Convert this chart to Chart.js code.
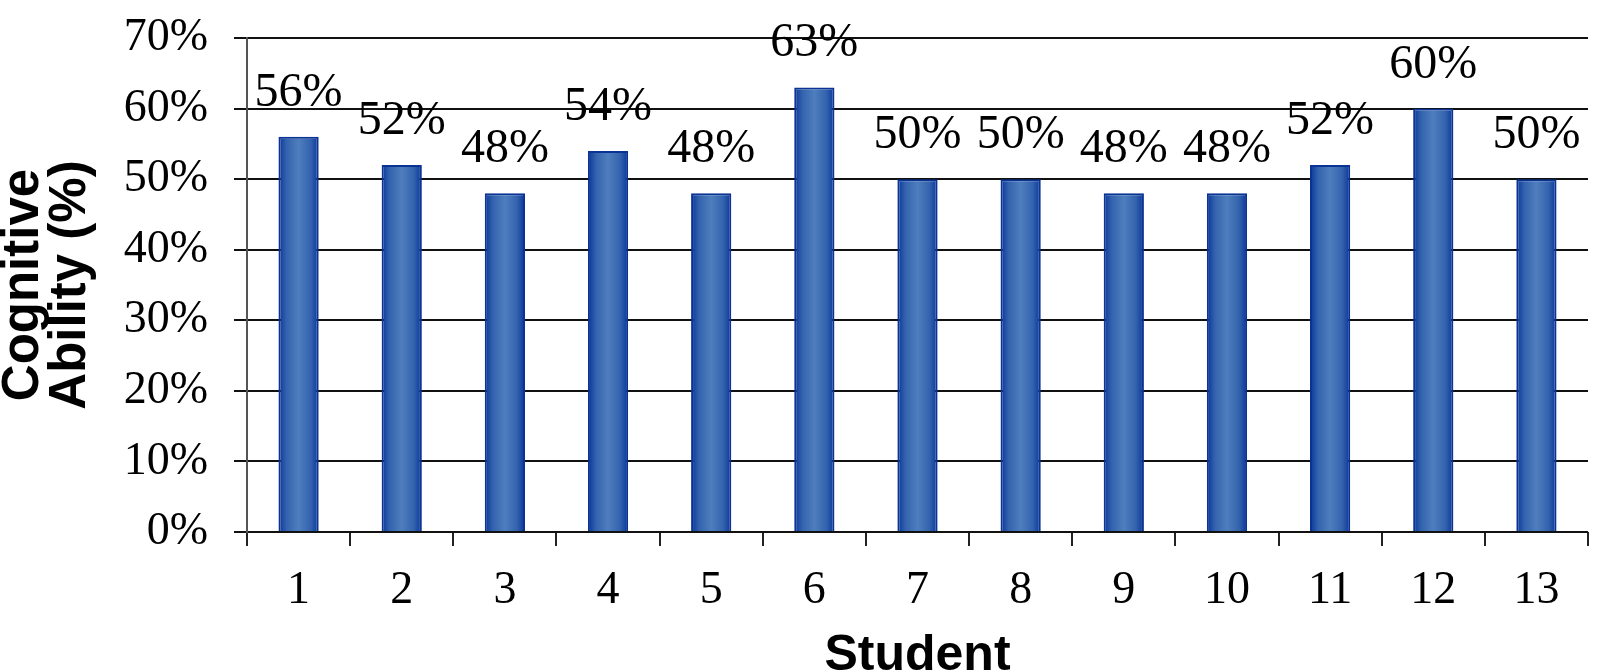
<!DOCTYPE html>
<html>
<head>
<meta charset="utf-8">
<script src="https://cdn.jsdelivr.net/npm/chart.js@4/dist/chart.umd.min.js"></script>
<style>
  html, body { margin: 0; padding: 0; background: #fff; }
  canvas { display: block; }
</style>
</head>
<body>
<canvas id="cogChart" width="1600" height="671"></canvas>
<script>
const students = ['1', '2', '3', '4', '5', '6', '7', '8', '9', '10', '11', '12', '13'];
const abilityValues = [56, 52, 48, 54, 48, 63, 50, 50, 48, 48, 52, 60, 50];
const yTicks = [0, 10, 20, 30, 40, 50, 60, 70];

const serif = '"Liberation Serif", "Times New Roman", serif';
const sans = '"Liberation Sans", Arial, sans-serif';
const barPct = 0.39;

// bar fill: dark edges, lighter middle
function barGradient(ctx) {
    const chart = ctx.chart;
    const area = chart.chartArea;
    if (!area || ctx.dataIndex === undefined) return '#4a7ab8';
    const cx = chart.scales.x.getPixelForValue(ctx.dataIndex);
    const w = (area.right - area.left) / students.length * barPct;
    const g = chart.ctx.createLinearGradient(cx - w / 2, 0, cx + w / 2, 0);
    g.addColorStop(0, '#08359a');
    g.addColorStop(0.2, '#3363ad');
    g.addColorStop(0.5, '#4f7ebe');
    g.addColorStop(0.8, '#3363ad');
    g.addColorStop(1, '#08359a');
    return g;
}

// value labels above each bar
const valueLabels = {
    id: 'valueLabels',
    afterDatasetsDraw(chart) {
        const c = chart.ctx;
        const meta = chart.getDatasetMeta(0);
        c.save();
        c.font = '48px ' + serif;
        c.fillStyle = '#000';
        c.textAlign = 'center';
        c.textBaseline = 'alphabetic';
        meta.data.forEach((bar, i) => {
            c.fillText(abilityValues[i] + '%', bar.x, bar.y - 31);
        });
        c.restore();
    }
};

new Chart(document.getElementById('cogChart'), {
    type: 'bar',
    data: {
        labels: students,
        datasets: [{
            data: abilityValues,
            backgroundColor: barGradient,
            borderColor: '#0a3393',
            borderWidth: 2,
            barPercentage: barPct,
            categoryPercentage: 1
        }]
    },
    options: {
        responsive: false,
        animation: false,
        devicePixelRatio: 1,
        layout: { padding: { top: 38, right: 12, left: 0, bottom: 0 } },
        plugins: {
            legend: { display: false },
            tooltip: { enabled: false }
        },
        scales: {
            x: {
                afterFit: s => {
                    s.height = 139;
                    s.paddingLeft = 0;
                    s.paddingRight = 0;
                },
                grid: {
                    display: true,
                    drawOnChartArea: false,
                    offset: true,
                    tickLength: 14,
                    color: '#222',
                    lineWidth: 2
                },
                border: { display: false },
                ticks: {
                    color: '#000',
                    padding: 17,
                    font: { family: serif, size: 46 }
                },
                title: {
                    display: true,
                    text: 'Student',
                    color: '#000',
                    padding: 0,
                    font: { family: sans, size: 50, weight: 'bold', lineHeight: 0.6 }
                }
            },
            y: {
                min: 0,
                max: 70,
                afterFit: s => {
                    s.width = 247;
                    s.paddingTop = 0;
                    s.paddingBottom = 0;
                },
                afterBuildTicks: s => { s.ticks = yTicks.map(v => ({ value: v })); },
                grid: {
                    color: '#111',
                    lineWidth: 2,
                    tickLength: 13
                },
                border: { display: true, color: '#555', width: 2 },
                ticks: {
                    color: '#000',
                    padding: 26,
                    font: { family: serif, size: 46 },
                    callback: v => v + '%'
                },
                title: {
                    display: true,
                    text: ['Cognitive', 'Ability (%)'],
                    color: '#000',
                    padding: 0,
                    font: { family: sans, size: 51, weight: 'bold', lineHeight: 0.93 }
                }
            }
        }
    },
    plugins: [valueLabels]
});
</script>
</body>
</html>
